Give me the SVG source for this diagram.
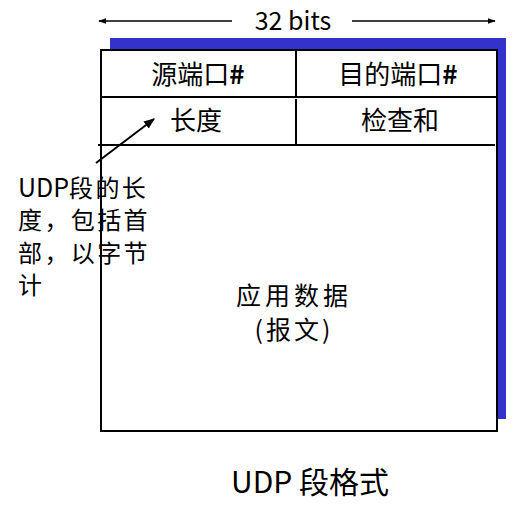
<svg xmlns="http://www.w3.org/2000/svg" width="529" height="518" viewBox="0 0 529 518">
<defs>
<style>
.t{font-family:"Noto Sans CJK SC","Noto Sans",sans-serif;fill:#000;font-weight:400}
.ln{stroke:#000;stroke-width:2}
</style>
<marker id="ah" viewBox="0 0 10 10" refX="9" refY="5" markerWidth="8" markerHeight="8" orient="auto" markerUnits="userSpaceOnUse">
<path d="M0,1.5 L10,5 L0,8.5 Z" fill="#000"/>
</marker>
<marker id="ah2" viewBox="0 0 10 10" refX="9" refY="5" markerWidth="11" markerHeight="11" orient="auto" markerUnits="userSpaceOnUse">
<path d="M0,1 L10,5 L0,9 Z" fill="#000"/>
</marker>
</defs>
<rect width="529" height="518" fill="#fff"/>
<g id="segment">
<rect x="110" y="38" width="396" height="381" fill="#3333cc"/>
<rect x="101" y="50" width="396" height="381" fill="#fff" class="ln"/>
<line x1="101" y1="97" x2="497" y2="97" class="ln"/>
<line x1="98" y1="145" x2="495" y2="145" class="ln"/>
<line x1="296" y1="50" x2="296" y2="97" class="ln"/>
<line x1="296" y1="99" x2="296" y2="145" class="ln"/>
</g>
<g id="src-port"><text class="t" x="198" y="84" font-size="26" text-anchor="middle">源端口<tspan font-weight="bold">#</tspan></text></g>
<g id="dst-port"><text class="t" x="398" y="84" font-size="26" text-anchor="middle">目的端口<tspan font-weight="bold">#</tspan></text></g>
<g id="length"><text class="t" x="196" y="130" font-size="26" text-anchor="middle">长度</text></g>
<g id="checksum"><text class="t" x="400" y="130" font-size="26" text-anchor="middle">检查和</text></g>
<g id="payload"><text class="t" x="294" y="305" font-size="25" letter-spacing="4" text-anchor="middle">应用数据</text><text class="t" x="294" y="339" font-size="25" letter-spacing="3" text-anchor="middle">(报文)</text></g>
<g id="note">
<text class="t" font-size="24" letter-spacing="2.4" x="18" y="197"><tspan letter-spacing="0" font-size="25">UDP</tspan>段的长</text>
<text class="t" font-size="24" letter-spacing="2.4" x="18" y="229">度，包括首</text>
<text class="t" font-size="24" letter-spacing="2.4" x="18" y="262">部，以字节</text>
<text class="t" font-size="24" letter-spacing="2.4" x="18" y="294">计</text>
</g>
<g id="bits-label"><text class="t" x="293" y="30" font-size="25" text-anchor="middle">32 bits</text></g>
<g id="caption"><text class="t" x="310" y="493" font-size="30" text-anchor="middle">UDP 段格式</text></g>
<g id="connectors">
<line x1="232" y1="21" x2="99" y2="21" stroke="#000" stroke-width="1.5" marker-end="url(#ah)"/>
<line x1="352" y1="21" x2="495" y2="21" stroke="#000" stroke-width="1.5" marker-end="url(#ah)"/>
<line x1="96" y1="163" x2="154" y2="119" stroke="#000" stroke-width="2" marker-end="url(#ah2)"/>
</g>
</svg>
